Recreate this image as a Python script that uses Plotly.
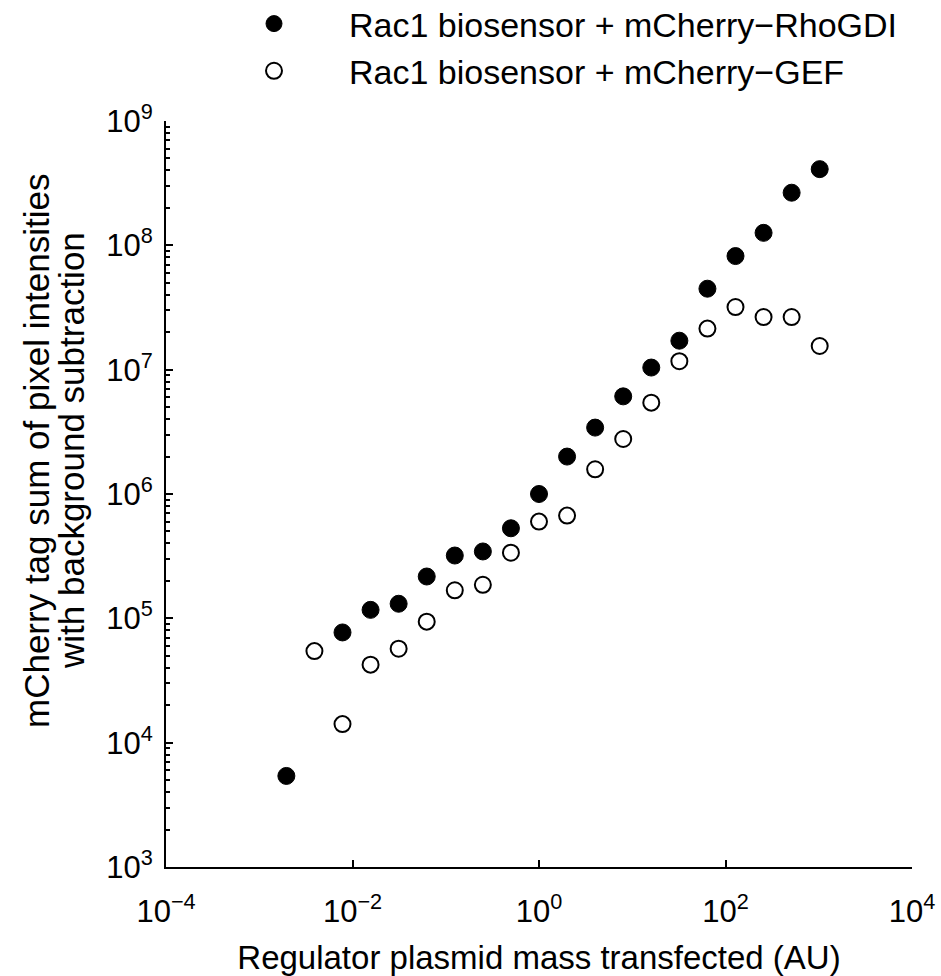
import plotly.graph_objects as go

# Data
x_rhogdi = [0.001953125, 0.0078125, 0.015625, 0.03125, 0.0625, 0.125, 0.25, 0.5,
            1, 2, 4, 8, 16, 32, 64, 128, 256, 512, 1024]
y_rhogdi = [5.4e3, 7.7e4, 1.17e5, 1.31e5, 2.17e5, 3.2e5, 3.45e5, 5.3e5,
            1.0e6, 2.0e6, 3.42e6, 6.1e6, 1.04e7, 1.71e7, 4.48e7, 8.2e7, 1.26e8, 2.65e8, 4.1e8]

x_gef = [0.00390625, 0.0078125, 0.015625, 0.03125, 0.0625, 0.125, 0.25, 0.5,
         1, 2, 4, 8, 16, 32, 64, 128, 256, 512, 1024]
y_gef = [5.45e4, 1.41e4, 4.24e4, 5.7e4, 9.4e4, 1.68e5, 1.86e5, 3.37e5,
         6.0e5, 6.7e5, 1.58e6, 2.77e6, 5.43e6, 1.17e7, 2.14e7, 3.19e7, 2.65e7, 2.65e7, 1.55e7]

series_names = ["Rac1 biosensor + mCherry\u2212RhoGDI", "Rac1 biosensor + mCherry\u2212GEF"]

x_tickvals = [1e-4, 1e-2, 1, 1e2, 1e4]
x_ticktext = ["10<sup>\u22124</sup>", "10<sup>\u22122</sup>", "10<sup>0</sup>",
              "10<sup>2</sup>", "10<sup>4</sup>"]
y_tickvals = [1e3, 1e4, 1e5, 1e6, 1e7, 1e8, 1e9]
y_ticktext = ["10<sup>3</sup>", "10<sup>4</sup>", "10<sup>5</sup>", "10<sup>6</sup>",
              "10<sup>7</sup>", "10<sup>8</sup>", "10<sup>9</sup>"]
y_minor_vals = [m * d for d in [1e3, 1e4, 1e5, 1e6, 1e7, 1e8] for m in range(2, 10)]

x_title = "Regulator plasmid mass transfected (AU)"
y_title_lines = ["mCherry tag sum of pixel intensities", "with background subtraction"]

FONT = "Liberation Sans, Arial, Helvetica, sans-serif"
W, H = 941, 976
L, R, T, B = 166, 29, 121, 109
PW, PH = W - L - R, H - T - B

fig = go.Figure()
fig.add_trace(go.Scatter(
    x=x_rhogdi, y=y_rhogdi, mode="markers", name=series_names[0], legendgroup="a",
    marker=dict(symbol="circle", size=17, color="black", line=dict(color="black", width=1)),
))
fig.add_trace(go.Scatter(
    x=x_gef, y=y_gef, mode="markers", name=series_names[1], legendgroup="b",
    marker=dict(symbol="circle", size=16, color="white", line=dict(color="black", width=2)),
))

axis_common = dict(
    type="log", showline=True, linecolor="black", linewidth=2, mirror=False,
    showgrid=False, zeroline=False, ticks="inside", tickcolor="black", tickwidth=2,
    ticklen=7, tickmode="array", automargin=False,
    tickfont=dict(family=FONT, size=31, color="black"),
)

fig.update_xaxes(
    **axis_common, range=[-4, 4], tickvals=x_tickvals, ticktext=x_ticktext,
    ticklabelstandoff=16,
    title=dict(text=x_title, font=dict(family=FONT, size=33, color="black"), standoff=28),
)
fig.update_yaxes(
    **axis_common, range=[3, 9], tickvals=y_tickvals, ticktext=y_ticktext,
    ticklabelstandoff=5,
    minor=dict(ticks="inside", ticklen=4, tickwidth=1.5, tickcolor="black",
               tickmode="array", tickvals=y_minor_vals, showgrid=False),
)

annotations = []
for txt, px in zip(y_title_lines, [36, 71]):
    annotations.append(dict(
        text=txt, textangle=-90, xref="paper", yref="paper",
        x=(px - L) / PW, y=1 - (451 - T) / PH, xanchor="center", yanchor="middle",
        showarrow=False, font=dict(family=FONT, size=35, color="black"),
    ))

fig.update_layout(
    width=W, height=H,
    margin=dict(l=L, r=R, t=T, b=B, autoexpand=False),
    paper_bgcolor="white", plot_bgcolor="white",
    showlegend=True,
    legend=dict(
        x=(199 - L) / PW, y=1 + (T + 5) / PH,
        xanchor="left", yanchor="top", bgcolor="rgba(0,0,0,0)",
        font=dict(family=FONT, size=34, color="black"),
        itemwidth=140, tracegroupgap=0,
    ),
    annotations=annotations,
)

fig.write_html("out.html")
